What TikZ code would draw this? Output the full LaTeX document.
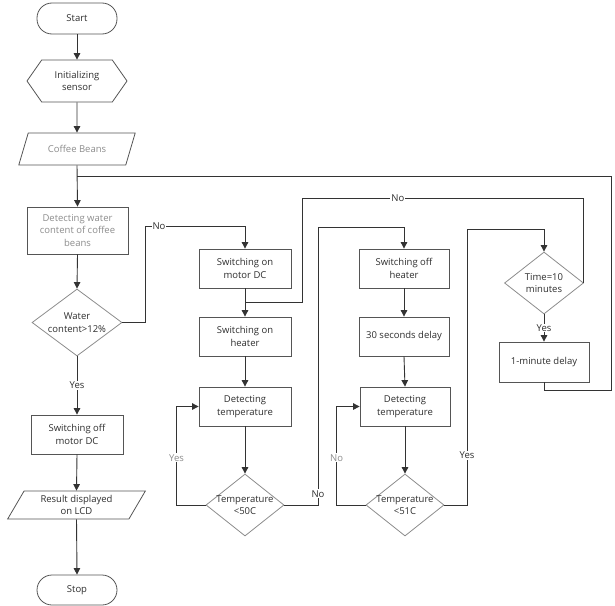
\documentclass[tikz,border=0pt]{standalone}
\usepackage{fontspec}
\setmainfont{Open Sans}
\usetikzlibrary{arrows.meta,calc,shapes.geometric,shapes.symbols}
\definecolor{fline}{HTML}{333333}
\definecolor{fedge}{HTML}{555555}
\definecolor{fsoft}{HTML}{8C8C8C}
\definecolor{ftext}{HTML}{2E2E2E}
\newcommand\flowfont{\fontsize{9.5}{12.5}\selectfont}
\tikzset{
  term/.style={draw=fedge,rounded corners=15pt,minimum width=80pt,minimum height=31pt,line width=0.8pt,font=\flowfont,text=ftext},
  prep/.style={signal,signal to=west and east,signal pointer angle=110,draw=fedge,minimum width=100pt,minimum height=42pt,line width=0.8pt,align=center,font=\flowfont,text=ftext,inner sep=1pt},
  io/.style={trapezium,trapezium stretches=true,draw=fedge,line width=0.8pt,align=center,font=\flowfont,text=ftext,inner sep=1pt},
  proc/.style={draw=fedge,line width=0.8pt,minimum width=92pt,minimum height=39pt,align=center,font=\flowfont,text=ftext,inner sep=2pt},
  dec/.style={diamond,draw=fsoft,line width=0.8pt,aspect=1.3,inner sep=-3pt,align=center,font=\flowfont,text=ftext},
  arr/.style={-{Triangle[length=6.5pt,width=6.5pt]},line width=0.9pt,draw=fline},
  ln/.style={line width=0.9pt,draw=fline},
  lbl/.style={font=\flowfont,text=ftext,fill=white,inner sep=1pt},
  slbl/.style={font=\flowfont,text=fsoft,fill=white,inner sep=1pt},
}

\begin{document}
\begin{tikzpicture}[x=1pt,y=-1pt]
  \useasboundingbox (0,0) rectangle (615,605);
  % main column
  \node[term] (start) at (77,18.5) {Start};
  \node[prep] (init) at (77,81) {Initializing\\sensor};
  \node[io,trapezium left angle=58,trapezium right angle=122,minimum width=117pt,minimum height=32pt,text=fsoft] (beans) at (77,149) {Coffee Beans};
  \node[proc,minimum width=101pt,minimum height=47pt,text=fsoft] (water) at (77.5,230.5) {Detecting water\\content of coffee\\beans};
  \node[dec,minimum width=90pt,minimum height=67pt] (wdec) at (77,322.5) {Water\\content>12\%};
  \node[proc] (offmotor) at (77,434.5) {Switching off\\motor DC};
  \node[io,trapezium left angle=62,trapezium right angle=118,minimum width=139pt,minimum height=28pt] (result) at (76.5,505) {Result displayed\\on LCD};
  \node[term,minimum height=30pt] (stop) at (77,590) {Stop};
  % heating column
  \node[proc] (onmotor) at (245,268.5) {Switching on\\motor DC};
  \node[proc] (onheater) at (245,336.5) {Switching on\\heater};
  \node[proc] (dtemp1) at (245,406.5) {Detecting\\temperature};
  \node[dec,minimum width=78pt,minimum height=62pt] (tdec1) at (245,505) {Temperature\\<50C};
  % cooling column
  \node[proc,minimum width=90pt] (offheater) at (404,268.5) {Switching off\\heater};
  \node[proc,minimum width=90pt] (wait30) at (404,336.5) {30 seconds delay};
  \node[proc,minimum width=90pt] (dtemp2) at (405,406.5) {Detecting\\temperature};
  \node[dec,minimum width=78pt,minimum height=62pt] (tdec2) at (405,505) {Temperature\\<51C};
  % timer column
  \node[dec,minimum width=79pt,minimum height=62pt] (tdec3) at (544,283) {Time=10\\minutes};
  \node[proc,minimum width=90pt,minimum height=40pt] (wait1) at (544,362) {1-minute delay};

  \coordinate (j0) at (77,176);
  \coordinate (j1) at ($(onmotor.south)!0.5!(onheater.north)$);
  \coordinate (n1) at (145,226);
  \coordinate (n2) at (302,198);
  \coordinate (n4) at (318,227);
  \coordinate (n5) at (467,229);
  \coordinate (n6) at (611,390);

  \draw[arr] (start.south) -- (init.north);
  \draw[arr] (init.south) -- (beans.north);
  \draw[arr] (beans.south) -- (water.north);
  \draw[arr] (water.south) -- (wdec.north);
  \draw[arr] (wdec.south) -- node[lbl] (yes1) {Yes} (offmotor.north);
  \draw[arr] (offmotor.south) -- (result.north);
  \draw[arr] (result.south) -- (stop.north);
  \draw[arr] (wdec.east) -| (n1) -| node[lbl,pos=0.07] (no1) {No} (onmotor.north);
  \draw[arr] (onmotor.south) -- (onheater.north);
  \draw[arr] (onheater.south) -- (dtemp1.north);
  \draw[arr] (dtemp1.south) -- (tdec1.north);
  \draw[arr] (tdec1.west) -- ++(-29,0) |- node[slbl,pos=0.24] (yes2) {Yes} (dtemp1.west);
  \draw[arr] (tdec1.east) -| node[lbl,pos=0.52] (no2) {No} (n4) -| (offheater.north);
  \draw[arr] (offheater.south) -- (wait30.north);
  \draw[arr] (wait30.south) -- (dtemp2.north);
  \draw[arr] (dtemp2.south) -- (tdec2.north);
  \draw[arr] (tdec2.west) -- ++(-29,0) |- node[slbl,pos=0.24] (no3) {No} (dtemp2.west);
  \draw[arr] (tdec2.east) -| node[lbl,pos=0.59] (yes3) {Yes} (n5) -| (tdec3.north);
  \draw[arr] (tdec3.south) -- node[lbl] (yes4) {Yes} (wait1.north);
  \draw[ln] (tdec3.east) |- node[lbl,pos=0.83] (no4) {No} (n2) |- (j1);
  \draw[ln] (wait1.south) |- (n6) |- (j0);
\end{tikzpicture}
\end{document}
